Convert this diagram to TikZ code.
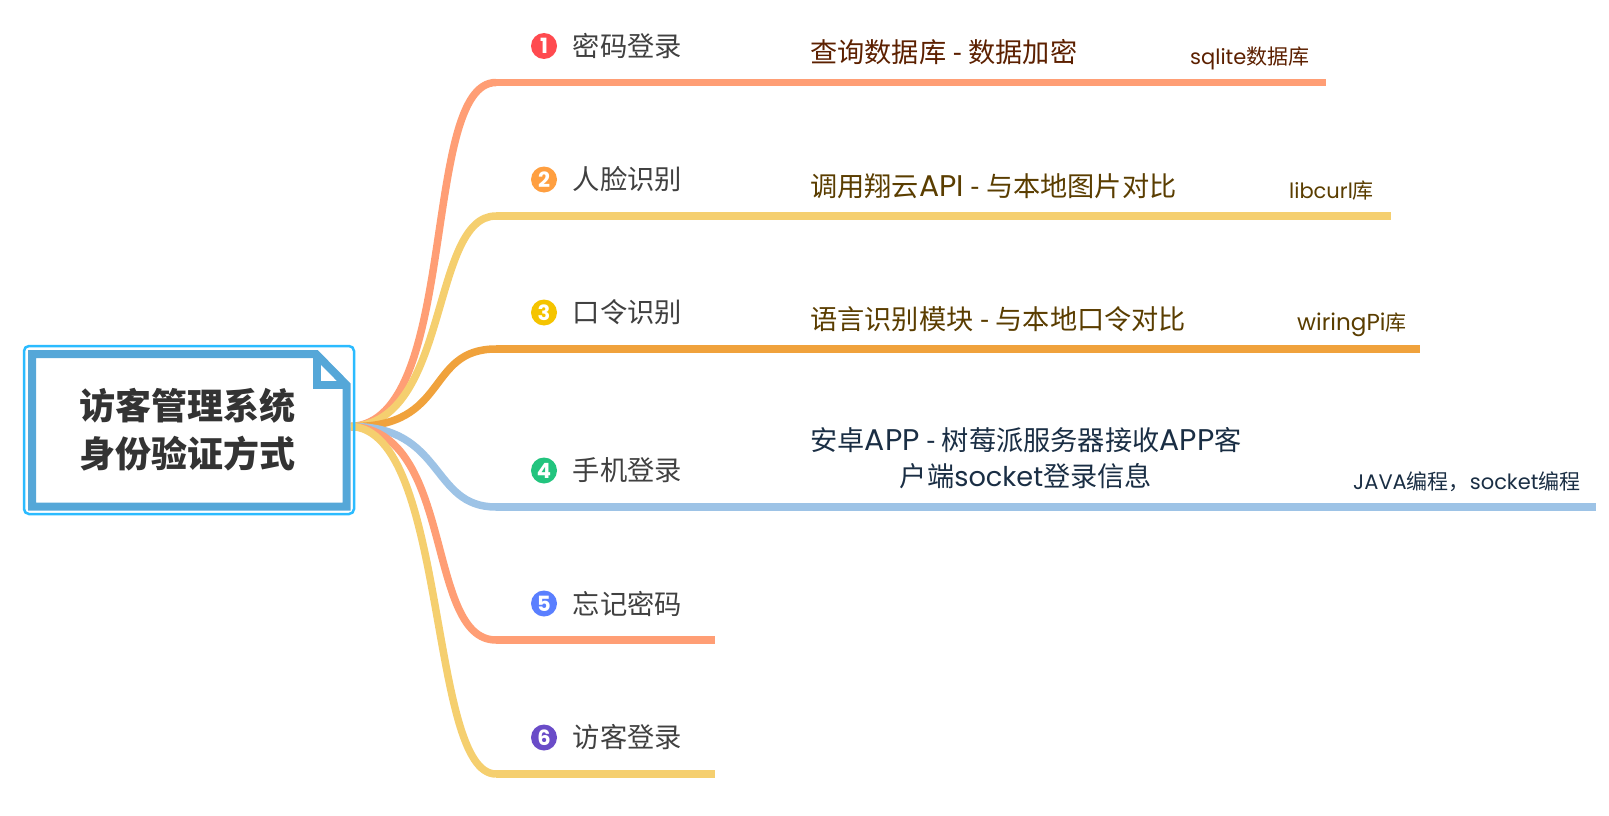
\documentclass[tikz,border=0pt]{standalone}
\usepackage{fontspec}
\setmainfont{Noto Sans CJK SC}
\newfontfamily\latinfont{Poppins}
\newfontfamily\latinwide[Scale=1.1]{Poppins}
\newfontfamily\dashfont{Lato}
\usepackage{xcolor}
\usetikzlibrary{positioning,calc}

\definecolor{lineRed}{HTML}{FF9E75}
\definecolor{lineYellow}{HTML}{F5CF6F}
\definecolor{lineOrange}{HTML}{F0A23C}
\definecolor{lineBlue}{HTML}{9DC3E6}
\definecolor{docBlue}{HTML}{55A7D8}
\definecolor{rootCyan}{HTML}{2BBBFF}
\definecolor{textRed}{HTML}{5C2000}
\definecolor{textBrown}{HTML}{5A3D00}
\definecolor{textNavy}{HTML}{1A2E44}
\definecolor{badgeA}{HTML}{FF4A4F}
\definecolor{badgeB}{HTML}{FF9F40}
\definecolor{badgeC}{HTML}{F5C400}
\definecolor{badgeD}{HTML}{22C47E}
\definecolor{badgeE}{HTML}{5A7FFF}
\definecolor{badgeF}{HTML}{6A4CC8}

\begin{document}
\begin{tikzpicture}[
    x=1pt,y=-1pt,
    branchline/.style={line width=7.5pt,line cap=butt},
    rootbox/.style={draw=rootCyan,line width=2.5pt,rounded corners=5pt,minimum width=330pt,minimum height=168pt,inner sep=0pt,align=center,text=black!80,font=\fontsize{36}{48}\selectfont\bfseries},
    docline/.style={draw=docBlue,line width=8pt,miter limit=10},
    badge/.style={circle,minimum size=26pt,inner sep=0pt,text=white,font=\fontsize{21}{21}\selectfont\latinfont\bfseries},
    topic/.style={anchor=west,inner sep=0pt,text=black!75,font=\fontsize{27.3}{30}\selectfont},
    detail/.style={anchor=west,inner sep=0pt,font=\fontsize{27.2}{36}\selectfont},
    note/.style={anchor=west,inner sep=0pt,font=\fontsize{21}{24}\selectfont}
  ]
    \useasboundingbox (0,0) rectangle (1609,816);

    \coordinate (hub) at (351,426.5);

    % branch points, top to bottom
    \coordinate (startA) at (496,82.5);
    \coordinate (startB) at (496,216);
    \coordinate (startC) at (496,349);
    \coordinate (startD) at (496,507);
    \coordinate (startE) at (496,640);
    \coordinate (startF) at (496,774);

    \draw[branchline,lineRed] (hub) .. controls (460,422) and (420,82.5) .. (startA);
    \draw[branchline,lineYellow] (hub) .. controls (450,424) and (430,216) .. (startB);
    \draw[branchline,lineOrange] (hub) .. controls (450,428) and (425,349) .. (startC);
    \draw[branchline,lineBlue] (hub) .. controls (445,426) and (430,507) .. (startD);
    \draw[branchline,lineRed] (hub) .. controls (455,430) and (425,640) .. (startE);
    \draw[branchline,lineYellow] (hub) .. controls (448,430) and (428,774) .. (startF);

    % badges and first level topics
    \foreach \id/\y/\col/\num/\txt in {
      A/46/badgeA/1/密码登录,
      B/179.5/badgeB/2/人脸识别,
      C/312.5/badgeC/3/口令识别,
      D/470.5/badgeD/4/手机登录,
      E/603.5/badgeE/5/忘记密码,
      F/737.5/badgeF/6/访客登录} {
      \node[badge,fill=\col] (badge\id) at (544,\y) {\num};
      \node[topic] (topic\id) at (572.5,\y) {\txt};
    }

    \node[detail,text=textRed] (detailA) at (810,52) {查询数据库 {\dashfont -} 数据加密};
    \node[detail,text=textBrown] (detailB) at (810,186) {调用翔云{\latinwide API} {\dashfont -} 与本地图片对比};
    \node[detail,text=textBrown] (detailC) at (810,319) {语言识别模块 {\dashfont -} 与本地口令对比};
    \node[detail,text=textNavy,anchor=center,align=center] (detailD) at (1026,458.5) {安卓{\latinwide APP} {\dashfont -} 树莓派服务器接收{\latinwide APP}客\\户端{\latinfont socket}登录信息};

    \node[note,text=textRed] (noteA) at (1190,58) {{\latinfont sqlite}数据库};
    \node[note,text=textBrown] (noteB) at (1289,191) {{\latinfont libcurl}库};
    \node[note,text=textBrown] (noteC) at (1297,325) {{\latinwide wiringPi}库};
    \node[note,text=textNavy] (noteD) at (1353,482) {{\latinfont JAVA}编程，{\latinfont socket}编程};

    % straight runs under the topics
    \foreach \id/\col/\xa/\xb/\xc/\xd in {
      A/lineRed/715/793/1095/1173,
      B/lineYellow/715/793/1193/1270,
      C/lineOrange/715/793/1203/1280,
      D/lineBlue/715/793/1259/1337} {
      \draw[branchline,\col] (start\id) -- (\xa,0 |- start\id);
      \draw[branchline,\col] (\xa,0 |- start\id) -- (\xb,0 |- start\id);
      \draw[branchline,\col] (\xb,0 |- start\id) -- (\xc,0 |- start\id);
      \draw[branchline,\col] (\xc,0 |- start\id) -- (\xd,0 |- start\id);
    }
    \draw[branchline,lineRed] (1173,0 |- startA) -- (1326,0 |- startA);
    \draw[branchline,lineYellow] (1270,0 |- startB) -- (1391,0 |- startB);
    \draw[branchline,lineOrange] (1280,0 |- startC) -- (1420,0 |- startC);
    \draw[branchline,lineBlue] (1337,0 |- startD) -- (1596,0 |- startD);
    \draw[branchline,lineRed] (startE) -- (715,0 |- startE);
    \draw[branchline,lineYellow] (startF) -- (715,0 |- startF);

    % root topic with its folded page
    \node[rootbox] (root) at (189,430) {\hspace*{-4pt}访客管理系统\\\hspace*{-4pt}身份验证方式};
    \draw[docline] (32,354) -- (316,354) -- (346.5,385) -- (346.5,506.5) -- (32,506.5) -- cycle;
    \draw[docline] (316.5,354) -- (316.5,384.5) -- (346.5,384.5);
  \end{tikzpicture}
\end{document}
